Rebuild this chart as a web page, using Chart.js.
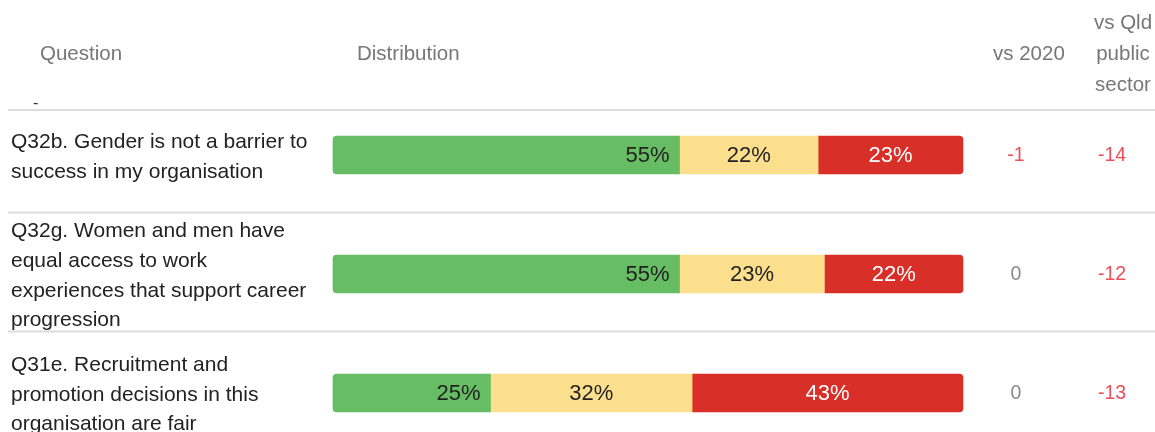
<!DOCTYPE html>
<html>
<head>
<meta charset="utf-8">
<script src="https://cdn.jsdelivr.net/npm/chart.js@4/dist/chart.umd.min.js"></script>
<style>
  html, body { margin: 0; padding: 0; background: #fff; }
  canvas { display: block; }
</style>
</head>
<body>
<canvas id="dist" width="1155" height="432"></canvas>
<script>
// data
const codes = ['Q32b', 'Q32g', 'Q31e'];
const questions = [
  ['Q32b. Gender is not a barrier to', 'success in my organisation'],
  ['Q32g. Women and men have', 'equal access to work', 'experiences that support career', 'progression'],
  ['Q31e. Recruitment and', 'promotion decisions in this', 'organisation are fair']
];
const positive = [55, 55, 25];
const neutral = [22, 23, 32];
const negative = [23, 22, 43];
const vs2020 = [-1, 0, 0];
const vsQld = [-14, -12, -13];

const GREEN = '#66bd63';
const YELLOW = '#fbdf8d';
const RED = '#d92f29';
const FONT = '"Liberation Sans", Arial, sans-serif';

function deltaColor(v) {
  return v < 0 ? '#ea4f5a' : '#8a8a8a';
}

// draws the table around the bars: headers, question text, separators, comparisons
const tablePlugin = {
  id: 'table',
  afterDatasetsDraw(chart) {
    const ctx = chart.ctx;
    const metas = [0, 1, 2].map(i => chart.getDatasetMeta(i));
    ctx.save();

    // percentages inside the segments
    ctx.font = '22px ' + FONT;
    ctx.textBaseline = 'middle';
    metas.forEach((meta, d) => {
      const values = chart.data.datasets[d].data;
      meta.data.forEach((bar, i) => {
        const left = Math.min(bar.base, bar.x), right = Math.max(bar.base, bar.x);
        const txt = values[i] + '%';
        if (d === 0) {
          ctx.textAlign = 'right';
          ctx.fillStyle = '#222';
          ctx.fillText(txt, right - 10, bar.y + 1);
        } else {
          ctx.textAlign = 'center';
          ctx.fillStyle = d === 2 ? '#fff' : '#222';
          ctx.fillText(txt, (left + right) / 2, bar.y + 1);
        }
      });
    });

    // header
    ctx.fillStyle = '#777';
    ctx.font = '20.5px ' + FONT;
    ctx.textAlign = 'left';
    ctx.fillText('Question', 40, 54);
    ctx.fillText('Distribution', 357, 54);
    ctx.fillText('vs 2020', 993, 54);
    ctx.textAlign = 'center';
    ctx.fillText('vs Qld', 1123, 23);
    ctx.fillText('public', 1123, 54);
    ctx.fillText('sector', 1123, 85);
    ctx.fillStyle = '#333';
    ctx.font = '16px ' + FONT;
    ctx.textAlign = 'left';
    ctx.fillText('-', 33, 104);

    // rows
    const rows = metas[0].data.map(b => b.y);
    ctx.strokeStyle = '#dcdcdc';
    ctx.lineWidth = 2;
    const seps = [110];
    for (let i = 1; i < rows.length; i++) seps.push((rows[i - 1] + rows[i]) / 2 - 2);
    seps.forEach(y => {
      ctx.beginPath();
      ctx.moveTo(8, y);
      ctx.lineTo(1155, y);
      ctx.stroke();
    });

    const lh = 29.7;
    rows.forEach((y, i) => {
      const lines = questions[i];
      ctx.font = '21px ' + FONT;
      ctx.fillStyle = '#222';
      ctx.textAlign = 'left';
      const top = y + 2 - (lines.length - 1) * lh / 2;
      lines.forEach((t, k) => ctx.fillText(t, 11, top + k * lh));

      ctx.font = '19.5px ' + FONT;
      ctx.textAlign = 'center';
      ctx.fillStyle = deltaColor(vs2020[i]);
      ctx.fillText(String(vs2020[i]), 1016, y + 1);
      ctx.fillStyle = deltaColor(vsQld[i]);
      ctx.fillText(String(vsQld[i]), 1112, y + 1);
    });
    ctx.restore();
  }
};

const ctx = document.getElementById('dist').getContext('2d');
new Chart(ctx, {
  type: 'bar',
  data: {
    labels: codes,
    datasets: [
      { label: 'Positive', data: positive, backgroundColor: GREEN, clip: false,
        borderRadius: { topLeft: 4, bottomLeft: 4, topRight: 0, bottomRight: 0 } },
      { label: 'Neutral', data: neutral, backgroundColor: YELLOW, clip: false,
        borderRadius: 0 },
      { label: 'Negative', data: negative, backgroundColor: RED, clip: false,
        borderRadius: { topLeft: 0, bottomLeft: 0, topRight: 4, bottomRight: 4 } }
    ]
  },
  options: {
    indexAxis: 'y',
    responsive: false,
    animation: false,
    layout: { padding: { left: 333, right: 192, top: 155, bottom: 39 } },
    datasets: {
      bar: { barThickness: 38, borderSkipped: false, borderWidth: 0 }
    },
    scales: {
      x: { stacked: true, min: 0, max: 100, display: false },
      y: { stacked: true, display: false, offset: false }
    },
    plugins: {
      legend: { display: false },
      tooltip: { enabled: false }
    }
  },
  plugins: [tablePlugin]
});
</script>
</body>
</html>
